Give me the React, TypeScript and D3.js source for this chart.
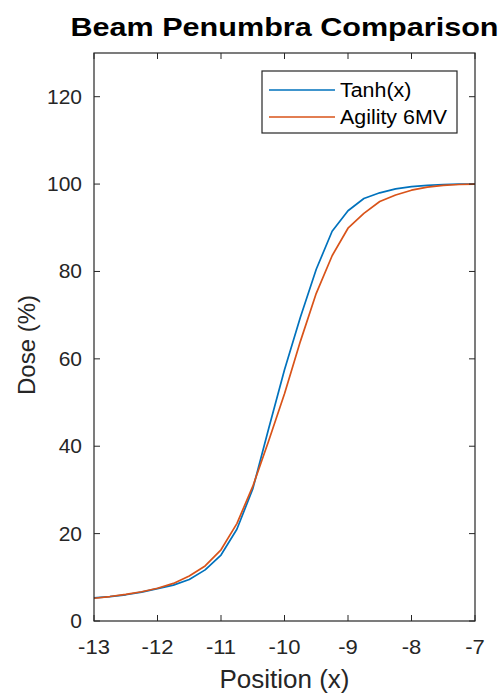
import React from "react";
import * as d3 from "d3";

const xPositions = [-13, -12.75, -12.5, -12.25, -12, -11.75, -11.5, -11.25, -11, -10.75, -10.5, -10.25, -10, -9.75, -9.5, -9.25, -9, -8.75, -8.5, -8.25, -8, -7.75, -7.5, -7.25, -7];
const tanhValues = [5.3, 5.6, 6.0, 6.6, 7.4, 8.2, 9.5, 11.7, 15.1, 21.0, 30.2, 44.0, 57.5, 69.5, 80.5, 89.2, 93.9, 96.7, 98.0, 98.9, 99.4, 99.7, 99.9, 100, 100];
const agilityValues = [5.2, 5.6, 6.1, 6.7, 7.5, 8.6, 10.3, 12.6, 16.3, 22.3, 30.8, 41.2, 52.0, 64.0, 75.0, 83.6, 89.9, 93.3, 96.0, 97.5, 98.6, 99.3, 99.7, 99.9, 100];
const xTicks = [-13, -12, -11, -10, -9, -8, -7];
const yTicks = [0, 20, 40, 60, 80, 100, 120];
const seriesNames = ["Tanh(x)", "Agility 6MV"];
const seriesColors = ["#0072BD", "#D95319"];

const W = 503, H = 694;
const left = 94, right = 475, top = 53, bottom = 621;
const axisColor = "#262626";
const font = "'Liberation Sans', Arial, Helvetica, sans-serif";

export default function App() {
  const x = d3.scaleLinear().domain([-13, -7]).range([left, right]);
  const y = d3.scaleLinear().domain([0, 130]).range([bottom, top]);
  const line = d3.line<number>().x((_, i) => x(xPositions[i])).y((d) => y(d));
  const series = [tanhValues, agilityValues];
  const tl = 6;
  return (
    <svg width={W} height={H} style={{ position: "absolute", left: 0, top: 0, background: "#fff" }}>
      <rect x={0} y={0} width={W} height={H} fill="#fff" />
      <text x={(left + right) / 2} y={36} textAnchor="middle" fontFamily={font} fontWeight="bold" fontSize={25} fill="#000" textLength={428} lengthAdjust="spacingAndGlyphs">Beam Penumbra Comparison</text>
      {series.map((s, i) => (
        <path key={i} d={line(s) || ""} fill="none" stroke={seriesColors[i]} strokeWidth={1.7} strokeLinejoin="round" />
      ))}
      <rect x={left} y={top} width={right - left} height={bottom - top} fill="none" stroke={axisColor} strokeWidth={1.2} />
      {xTicks.map((t) => (
        <g key={"x" + t}>
          <line x1={x(t)} x2={x(t)} y1={bottom} y2={bottom - tl} stroke={axisColor} strokeWidth={1} />
          <line x1={x(t)} x2={x(t)} y1={top} y2={top + tl} stroke={axisColor} strokeWidth={1} />
          <text transform={`translate(${x(t)},${bottom + 33}) scale(1.1,1)`} textAnchor="middle" fontFamily={font} fontSize={20} fill={axisColor}>{String(t)}</text>
        </g>
      ))}
      {yTicks.map((t) => (
        <g key={"y" + t}>
          <line x1={left} x2={left + tl} y1={y(t)} y2={y(t)} stroke={axisColor} strokeWidth={1} />
          <line x1={right} x2={right - tl} y1={y(t)} y2={y(t)} stroke={axisColor} strokeWidth={1} />
          <text transform={`translate(${left - 12},${y(t) + 7}) scale(1.05,1)`} textAnchor="end" fontFamily={font} fontSize={20} fill={axisColor}>{String(t)}</text>
        </g>
      ))}
      <text x={(left + right) / 2} y={688} textAnchor="middle" fontFamily={font} fontSize={26} fill={axisColor}>Position (x)</text>
      <text transform={`translate(35,345) rotate(-90)`} textAnchor="middle" fontFamily={font} fontSize={24} fill={axisColor}>Dose (%)</text>
      <g>
        <rect x={262} y={71} width={195} height={62} fill="#fff" stroke={axisColor} strokeWidth={1.2} />
        {seriesNames.map((n, i) => (
          <g key={n}>
            <line x1={269} x2={335} y1={90 + i * 27} y2={90 + i * 27} stroke={seriesColors[i]} strokeWidth={1.7} />
            <text transform={`translate(340,${90 + i * 27 + 7}) scale(1.07,1)`} fontFamily={font} fontSize={20} fill="#000">{n}</text>
          </g>
        ))}
      </g>
    </svg>
  );
}
